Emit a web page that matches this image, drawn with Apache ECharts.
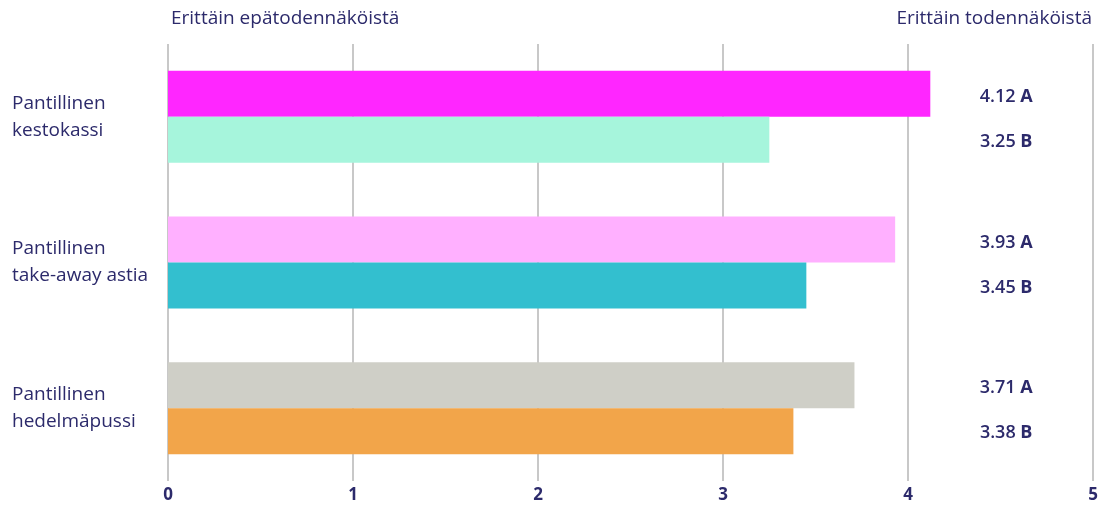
<!DOCTYPE html>
<html><head><meta charset="utf-8">
<script src="https://cdn.jsdelivr.net/npm/echarts@6/dist/echarts.min.js"></script>
<style>html,body{margin:0;padding:0;background:#fff}#c{width:1101px;height:505px}</style>
</head><body><div id="c"></div>
<script>
const categories = ['Pantillinen\nkestokassi', 'Pantillinen\ntake-away astia', 'Pantillinen\nhedelmäpussi'];
const valuesA = [4.12, 3.93, 3.71];
const valuesB = [3.25, 3.45, 3.38];
const colorsA = ['#ff26ff', '#ffb0ff', '#cfcfc7'];
const colorsB = ['#a6f5dc', '#33bfcf', '#f2a54a'];
const xTicks = [0, 1, 2, 3, 4, 5];
const leftTitle = 'Erittäin epätodennäköistä';
const rightTitle = 'Erittäin todennäköistä';
const labelX = 4.53;

const navy = '#2c2a6b';
const font = '"Open Sans", "Noto Sans", sans-serif';
const chart = echarts.init(document.getElementById('c'));
function labelSeries(vals, letter, dy) {
  return {
    type: 'scatter', symbolSize: 0, silent: true, z: 5,
    itemStyle: { opacity: 1 },
    data: vals.map((v, i) => ({ value: [labelX, i], raw: v })),
    label: {
      show: true, position: 'inside', offset: [0, dy], opacity: 1,
      formatter: p => '{n|' + p.data.raw.toFixed(2) + ' }{b|' + letter + '}',
      rich: {
        n: { fontFamily: font, fontSize: 18, color: navy, fontWeight: 600 },
        b: { fontFamily: font, fontSize: 18, color: navy, fontWeight: 'bold' }
      }
    }
  };
}
chart.setOption({
  animation: false,
  title: [
    { text: leftTitle, left: 166, top: 4, textStyle: { fontFamily: font, fontSize: 19, fontWeight: 'normal', color: navy } },
    { text: rightTitle, right: 4, top: 4, textStyle: { fontFamily: font, fontSize: 19, fontWeight: 'normal', color: navy } }
  ],
  grid: { left: 168, right: 5, top: 44, height: 437 },
  xAxis: {
    type: 'value', min: 0, max: 5, interval: 1,
    axisLine: { show: false }, axisTick: { show: false },
    splitLine: { show: true, lineStyle: { color: '#c8c8c8', width: 2 } },
    axisLabel: { fontFamily: font, fontSize: 17, fontWeight: 'bold', color: navy, margin: 6,
      formatter: v => xTicks.includes(v) ? String(v) : '' }
  },
  yAxis: {
    type: 'category', data: categories, inverse: true,
    axisLine: { show: false }, axisTick: { show: false },
    axisLabel: { align: 'left', margin: 156, fontFamily: font, fontSize: 19, color: navy, lineHeight: 27 }
  },
  series: [
    { type: 'bar', barWidth: 46, barGap: '0%', barCategoryGap: '36%',
      data: valuesA.map((v, i) => ({ value: v, itemStyle: { color: colorsA[i] } })) },
    { type: 'bar', barWidth: 46,
      data: valuesB.map((v, i) => ({ value: v, itemStyle: { color: colorsB[i] } })) },
    labelSeries(valuesA, 'A', -20),
    labelSeries(valuesB, 'B', 25)
  ]
});
</script></body></html>
